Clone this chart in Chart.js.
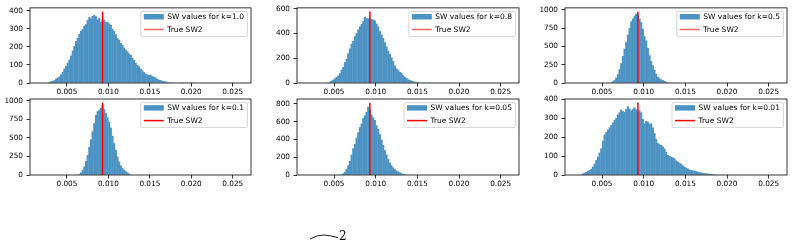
<!DOCTYPE html>
<html><head><meta charset="utf-8">
<script src="https://cdn.jsdelivr.net/npm/chart.js@4.4.1/dist/chart.umd.min.js"></script>
<style>
html,body{margin:0;padding:0;background:#fff;}
#wrap{position:relative;width:794px;height:241px;overflow:hidden;background:#fff;}
#wrap canvas{position:absolute;left:0;top:0;}
#two{position:absolute;left:339px;top:230px;font:12px "DejaVu Serif",serif;line-height:1;color:#000;}
#curve{position:absolute;left:305px;top:230px;}
</style></head><body>
<div id="wrap">
<canvas id="c0" width="794" height="241"></canvas>
<canvas id="c1" width="794" height="241"></canvas>
<canvas id="c2" width="794" height="241"></canvas>
<canvas id="c3" width="794" height="241"></canvas>
<canvas id="c4" width="794" height="241"></canvas>
<canvas id="c5" width="794" height="241"></canvas>
<svg id="curve" width="40" height="14"><path d="M5,9 Q13,4.6 19,5 T33,7.6" fill="none" stroke="#000" stroke-width="0.9"/></svg>
<span id="two">2</span>
</div>
<script>
// ---- data ----
const binWidth = 0.0002;
const xTicks = [0.005, 0.010, 0.015, 0.020, 0.025];
const xMin = 0.00055, xMax = 0.0272;
const trueSW2 = 0.0093;
const kValues = ['1.0', '0.8', '0.5', '0.1', '0.05', '0.01'];

const firstCenter_k10 = 0.0025;
const counts_k10 = [2,3,6,9,12,16,24,30,36,48,62,80,95,112,130,152,180,205,232,250,272,290,300,318,326,350,366,358,372,378,370,352,362,340,355,350,338,340,330,322,300,288,270,250,240,222,212,196,184,176,164,156,140,128,112,100,92,80,70,60,52,48,44,46,38,34,30,24,18,16,12,10,8,7,5,4,3,3,2,2,1,1,1,1,0,1,0,1,0,1,0];

const firstCenter_k08 = 0.0041;
const counts_k08 = [2,4,10,18,26,38,48,60,78,108,130,168,196,240,280,318,340,378,402,432,456,478,500,536,524,520,530,516,512,506,480,456,420,392,364,330,296,262,236,206,178,140,118,104,90,80,62,50,40,30,24,20,14,10,8,6,4,3,1,1,0,0,1];

const firstCenter_k05 = 0.0057;
const counts_k05 = [2,5,10,25,45,75,120,190,270,370,470,560,660,750,840,880,920,946,935,880,830,740,640,580,480,380,300,240,180,125,85,65,50,40,28,16,10,4];

const firstCenter_k01 = 0.0063;
const counts_k01 = [5,15,35,70,115,190,270,380,480,590,700,810,860,880,910,940,890,840,780,720,640,530,430,340,250,180,130,95,70,50,35,18,8];

const firstCenter_k005 = 0.0057;
const counts_k005 = [3,8,18,35,70,110,160,230,300,350,420,480,540,580,640,670,710,770,740,680,650,620,560,520,460,400,340,280,230,180,140,110,85,65,50,40,28,20,14,10,6,4,2];

const firstCenter_k001 = 0.0021;
const counts_k001 = [1,2,4,8,12,16,22,26,32,44,60,78,96,118,140,180,212,226,238,250,262,276,290,300,318,330,345,336,332,348,362,350,340,348,356,345,330,340,330,295,272,285,280,270,272,250,220,190,168,162,158,150,140,122,106,100,96,92,88,76,70,64,60,50,44,38,34,28,26,24,22,20,18,15,13,11,10,9,8,6,5,5,4,3,3,2,2,1,2,1,3,0];

const trueLineHeights = [397, 578, 977, 977, 815, 381];
const yMaxes = [417, 607, 1026, 1026, 856, 400];
const yTicks_k10 = [0, 100, 200, 300, 400];
const yTicks_k08 = [0, 200, 400, 600];
const yTicks_k05 = [0, 250, 500, 750, 1000];
const yTicks_k01 = [0, 250, 500, 750, 1000];
const yTicks_k005 = [0, 200, 400, 600, 800];
const yTicks_k001 = [0, 100, 200, 300, 400];

const panels = [
  {counts: counts_k10, first: firstCenter_k10, yTicks: yTicks_k10},
  {counts: counts_k08, first: firstCenter_k08, yTicks: yTicks_k08},
  {counts: counts_k05, first: firstCenter_k05, yTicks: yTicks_k05},
  {counts: counts_k01, first: firstCenter_k01, yTicks: yTicks_k01},
  {counts: counts_k005, first: firstCenter_k005, yTicks: yTicks_k005},
  {counts: counts_k001, first: firstCenter_k001, yTicks: yTicks_k001}
];

// ---- layout (plot areas) ----
const W = 794, H = 241;
const colLR = [[30, 251], [297, 519], [565, 787]];
const rowTB = [[7, 83], [99, 175]];
const Y_AXIS_W = 30, X_AXIS_H = 20;
const BAR_COLOR = '#4c92c3';
const FONT = '"DejaVu Sans", sans-serif';

const framePlugin = {
  id: 'frame',
  afterDatasetsDraw(chart) {
    const a = chart.chartArea, ctx = chart.ctx;
    ctx.save();
    ctx.strokeStyle = '#000';
    ctx.lineWidth = 0.8;
    ctx.strokeRect(a.left, a.top, a.right - a.left, a.bottom - a.top);
    ctx.restore();
  }
};

const legendPlugin = {
  id: 'mplLegend',
  afterDraw(chart, args, opts) {
    const ctx = chart.ctx, a = chart.chartArea;
    ctx.save();
    ctx.font = '7.5px ' + FONT;
    const labels = chart.data.datasets.map(d => d.label);
    const tw = Math.max(...labels.map(l => ctx.measureText(l).width));
    const boxW = 26.5 + tw + 3.5, boxH = 25;
    const x0 = a.right - 3.6 - boxW, y0 = a.top + 3.6;
    ctx.fillStyle = 'rgba(255,255,255,0.8)';
    ctx.strokeStyle = '#cccccc';
    ctx.lineWidth = 0.8;
    ctx.beginPath();
    ctx.roundRect(x0, y0, boxW, boxH, 1.5);
    ctx.fill();
    ctx.stroke();
    ctx.fillStyle = BAR_COLOR;
    ctx.fillRect(x0 + 3, y0 + 5.3 - 2.7, 20, 5.4);
    ctx.strokeStyle = opts.lineColor;
    ctx.lineWidth = 1.5;
    ctx.beginPath();
    ctx.moveTo(x0 + 3, y0 + 18);
    ctx.lineTo(x0 + 23, y0 + 18);
    ctx.stroke();
    ctx.fillStyle = '#000';
    ctx.textBaseline = 'middle';
    ctx.textAlign = 'left';
    ctx.fillText(labels[0], x0 + 26.5, y0 + 5.5);
    ctx.fillText(labels[1], x0 + 26.5, y0 + 18.2);
    ctx.restore();
  }
};

panels.forEach((p, i) => {
  const row = Math.floor(i / 3), col = i % 3;
  const [L, R] = colLR[col];
  const [T, B] = rowTB[row];
  const barData = p.counts.map((c, j) => ({x: p.first + j * binWidth, y: c}));
  const lineData = [{x: trueSW2, y: 0}, {x: trueSW2, y: trueLineHeights[i]}];
  new Chart(document.getElementById('c' + i), {
    type: 'bar',
    data: {
      datasets: [
        {type: 'bar', label: 'SW values for k=' + kValues[i], data: barData,
         backgroundColor: BAR_COLOR, borderWidth: 0, barPercentage: 1.25, categoryPercentage: 1, order: 1},
        {type: 'line', label: 'True SW2', data: lineData, borderColor: '#ff0000',
         borderWidth: 1.5, pointRadius: 0, fill: false, order: 0}
      ]
    },
    options: {
      responsive: false, animation: false, devicePixelRatio: 1, events: [],
      layout: {autoPadding: false, padding: {left: L - Y_AXIS_W, right: W - R, top: T, bottom: H - B - X_AXIS_H}},
      plugins: {legend: {display: false}, tooltip: {enabled: false},
                mplLegend: {lineColor: row === 0 ? 'rgba(255,0,0,0.6)' : '#ff0000'}},
      scales: {
        x: {
          type: 'linear', min: xMin, max: xMax, offset: false,
          afterFit(s) { s.height = X_AXIS_H; },
          afterBuildTicks(s) { s.ticks = xTicks.map(v => ({value: v})); },
          grid: {display: true, drawOnChartArea: false, drawTicks: true, tickLength: 3.5, color: '#000', lineWidth: 0.8, offset: false},
          border: {display: false},
          ticks: {font: {family: FONT, size: 7.3}, color: '#000', padding: 1.5, maxRotation: 0, autoSkip: false,
                  callback: v => v.toFixed(3)}
        },
        y: {
          type: 'linear', min: 0, max: yMaxes[i],
          afterFit(s) { s.width = Y_AXIS_W; },
          afterBuildTicks(s) { s.ticks = p.yTicks.map(v => ({value: v})); },
          grid: {display: true, drawOnChartArea: false, drawTicks: true, tickLength: 3.5, color: '#000', lineWidth: 0.8},
          border: {display: false},
          ticks: {font: {family: FONT, size: 7.3}, color: '#000', padding: 3.5, autoSkip: false,
                  callback: v => String(v)}
        }
      }
    },
    plugins: [framePlugin, legendPlugin]
  });
});
</script>
</body></html>
